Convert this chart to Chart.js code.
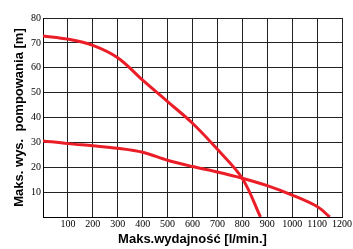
<!DOCTYPE html>
<html>
<head>
<meta charset="utf-8">
<script src="https://cdn.jsdelivr.net/npm/chart.js@4"></script>
<style>
  html, body { margin: 0; padding: 0; background: #fff; }
  #wrap { width: 353px; height: 249px; }
</style>
</head>
<body>
<div id="wrap"><canvas id="pompa"></canvas></div>
<script>
'use strict'

// wydajnosc [l/min] i wysokosc [m]
const flowHigh = [0, 100, 200, 300, 400, 500, 600, 700, 800, 873]
const headHigh = [72.8, 71.5, 69.0, 64.0, 55.0, 46.4, 37.7, 27.2, 15.5, 0]

const flowLow = [0, 100, 200, 300, 400, 500, 600, 700, 800, 900, 1000, 1100, 1151]
const headLow = [30.6, 29.5, 28.6, 27.6, 26.0, 22.8, 20.3, 18.1, 15.6, 12.6, 8.8, 4.2, 0]

const xTicks = [100, 200, 300, 400, 500, 600, 700, 800, 900, 1000, 1100, 1200]
const yTicks = [10, 20, 30, 40, 50, 60, 70, 80]

const toPoints = (xs, ys) => xs.map((x, i) => ({x: x, y: ys[i]}))

const red = 'rgb(235, 30, 40)'

const data = {
  datasets: [{
    data: toPoints(flowHigh, headHigh),
    borderColor: red,
    borderWidth: 3,
    pointRadius: 0,
    tension: 0.35,
    fill: false
  },
  {
    data: toPoints(flowLow, headLow),
    borderColor: red,
    borderWidth: 3,
    pointRadius: 0,
    tension: 0.35,
    fill: false
  }]
}

const tickFont = {family: "'Liberation Serif', 'Times New Roman', serif", size: 10}
const titleFont = {family: "'Liberation Sans Narrow', 'Arial Narrow', 'Liberation Sans', sans-serif", size: 13, weight: 'bold'}

const config = {
  type: 'line',
  data: data,
  options: {
    responsive: true,
    maintainAspectRatio: false,
    animation: false,
    layout: {padding: {top: 18, right: 9, left: 12, bottom: 2}},
    plugins: {legend: {display: false}, tooltip: {enabled: false}},
    scales: {
      x: {
        type: 'linear',
        min: 0,
        max: 1200,
        afterBuildTicks: axis => { axis.ticks = [0].concat(xTicks).map(v => ({value: v})) },
        afterFit: axis => { axis.height = 30 },
        grid: {color: '#222', lineWidth: 1, drawTicks: false},
        border: {color: '#000', width: 1},
        ticks: {
          font: tickFont, color: '#000', padding: 1, maxRotation: 0, autoSkip: false,
          callback: v => v === 0 ? '' : v
        },
        title: {display: true, text: 'Maks.wydajność [l/min.]', font: titleFont, color: '#000', padding: 0}
      },
      y: {
        min: 0,
        max: 80,
        afterBuildTicks: axis => { axis.ticks = [0].concat(yTicks).map(v => ({value: v})) },
        afterFit: axis => { axis.width = 31 },
        grid: {color: '#222', lineWidth: 1, drawTicks: false},
        border: {color: '#000', width: 1},
        ticks: {
          font: tickFont, color: '#000', padding: 2,
          callback: v => v === 0 ? '' : v
        },
        title: {display: true, text: 'Maks. wys.  pompowania [m]', font: titleFont, color: '#000', padding: 0}
      }
    }
  }
}

const pompa = new Chart(document.querySelector('#pompa'), config)
</script>
</body>
</html>
